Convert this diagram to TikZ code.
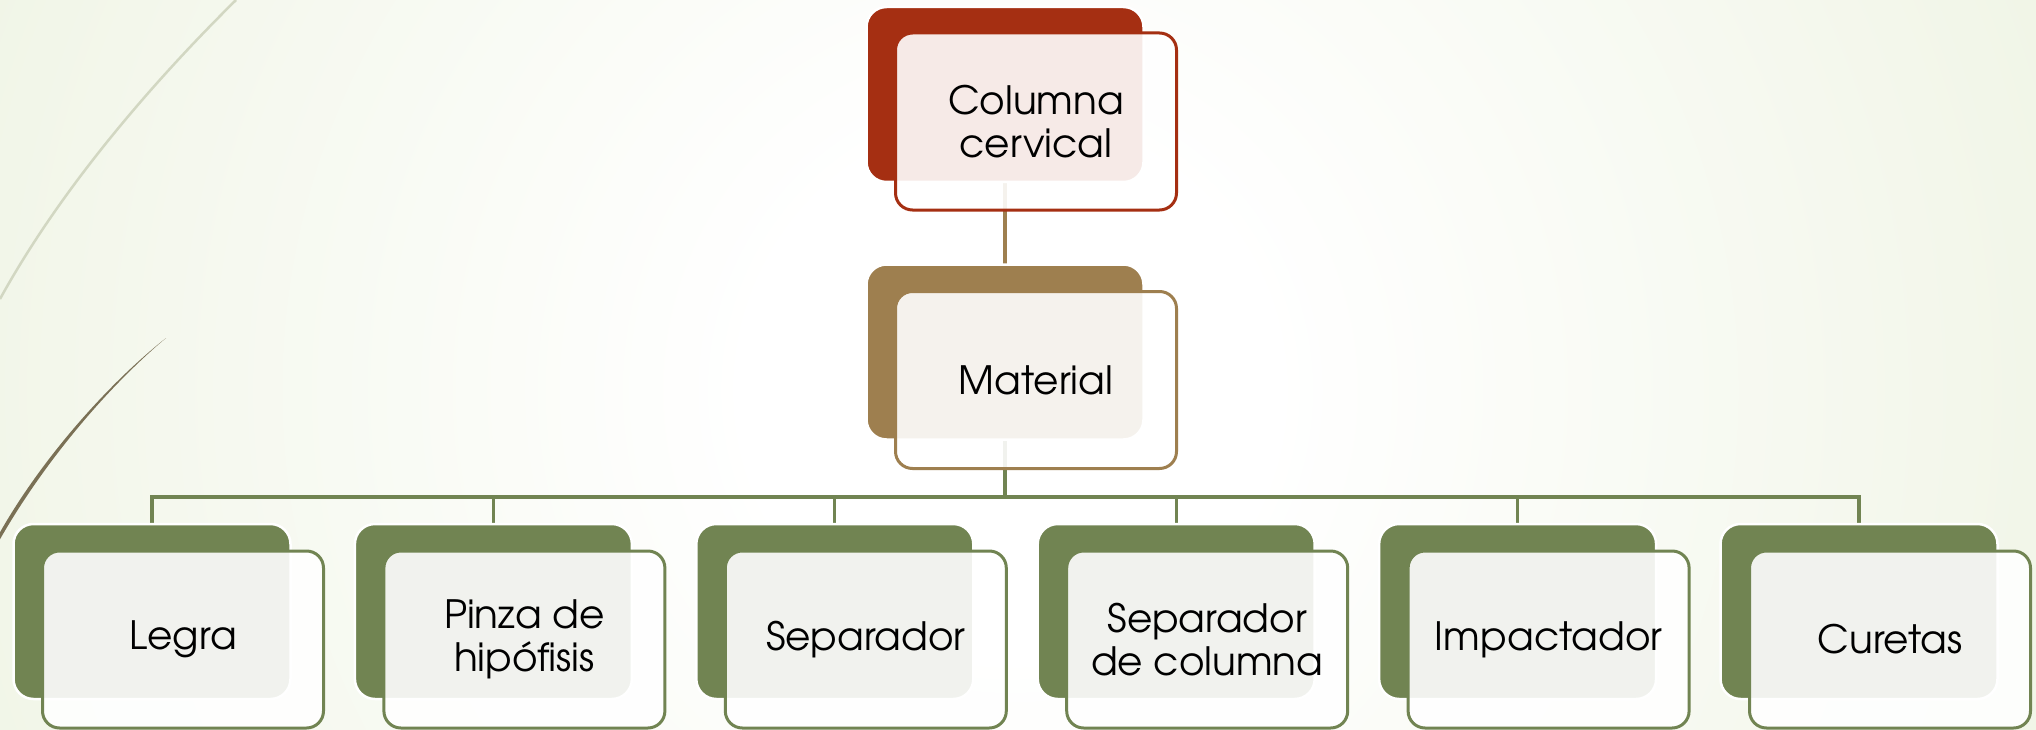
\documentclass[tikz,border=0pt]{standalone}
\usepackage{fontspec}
\setmainfont{TeX Gyre Adventor}
\usetikzlibrary{calc}
\definecolor{cred}{HTML}{A52F12}
\definecolor{ctan}{HTML}{9E7F4F}
\definecolor{cgreen}{HTML}{718452}
\definecolor{bggreen}{HTML}{DFE9C9}
\definecolor{curveA}{HTML}{D2D7C2}
\definecolor{curveB}{HTML}{7A7055}
\pgfdeclareradialshading{bgshade}{\pgfpoint{0bp}{0bp}}{color(0bp)=(white); color(5bp)=(white); color(41bp)=(bggreen); color(50bp)=(bggreen)}
\pgfdeclarelayer{bg}
\pgfdeclarelayer{edges}
\pgfsetlayers{bg,edges,main}
\tikzset{
  backbox/.style={draw=white, line width=2.5pt, rounded corners=20pt, minimum width=277pt, minimum height=175pt, inner sep=0pt},
  frontbox/.style={line width=3pt, fill=white, fill opacity=0.9, text opacity=1, rounded corners=17pt, minimum width=281pt, minimum height=177pt, align=center, font=\fontsize{39}{43}\selectfont, inner sep=0pt},
  link/.style={line width=3.2pt},
}
\begin{document}
\begin{tikzpicture}[x=1pt,y=-1pt]
\useasboundingbox (0,0) rectangle (2036,730);
\begin{pgfonlayer}{bg}
  \begin{scope}
    \clip (0,0) rectangle (2036,730);
    \shade[shading=bgshade] (1010,390) circle (1300pt);
  \end{scope}
\end{pgfonlayer}
% decorative curves
\draw[curveA, line width=2.5pt] (236,0) .. controls (150,85) and (60,190) .. (0,299);
\fill[curveB] (166,338) .. controls (110,385) and (45,460) .. (-1,541) -- (-1,534) .. controls (42,458) and (108,384) .. (166,338) -- cycle;
% top
\node[backbox, fill=cred] (tb) at (1005,94.5) {};
\node[frontbox, draw=cred] (tf) at ($(tb)+(31,27)$) {Columna\\cervical};
% middle
\node[backbox, fill=ctan] (mb) at (1005,352) {};
\node[frontbox, draw=ctan] (mf) at ($(mb)+(31,28)$) {Material};
% children
\foreach \i/\t in {1/Legra, 2/{Pinza de\\hip\'ofisis}, 3/Separador, 4/{Separador\\de columna}, 5/Impactador, 6/Curetas}{
  \node[backbox, fill=cgreen] (cb\i) at ({152+341.4*(\i-1)},611.5) {};
  \node[frontbox, draw=cgreen] (cf\i) at ($(cb\i)+(31,28)$) {\t};
}
\coordinate (bus) at (0,497);
\begin{pgfonlayer}{edges}
  \draw[link, ctan] (tb.center) -- (mb.center);
  \draw[link, cgreen] (mb.center) -- (mb.center |- bus);
  \draw[link, cgreen] (cb1.center) -- (cb1.center |- bus) -- (cb6.center |- bus) -- (cb6.center);
  \foreach \i in {2,3,4,5}{
    \draw[link, cgreen] (cb\i.center |- bus) -- (cb\i.center);
  }
\end{pgfonlayer}
\end{tikzpicture}
\end{document}
